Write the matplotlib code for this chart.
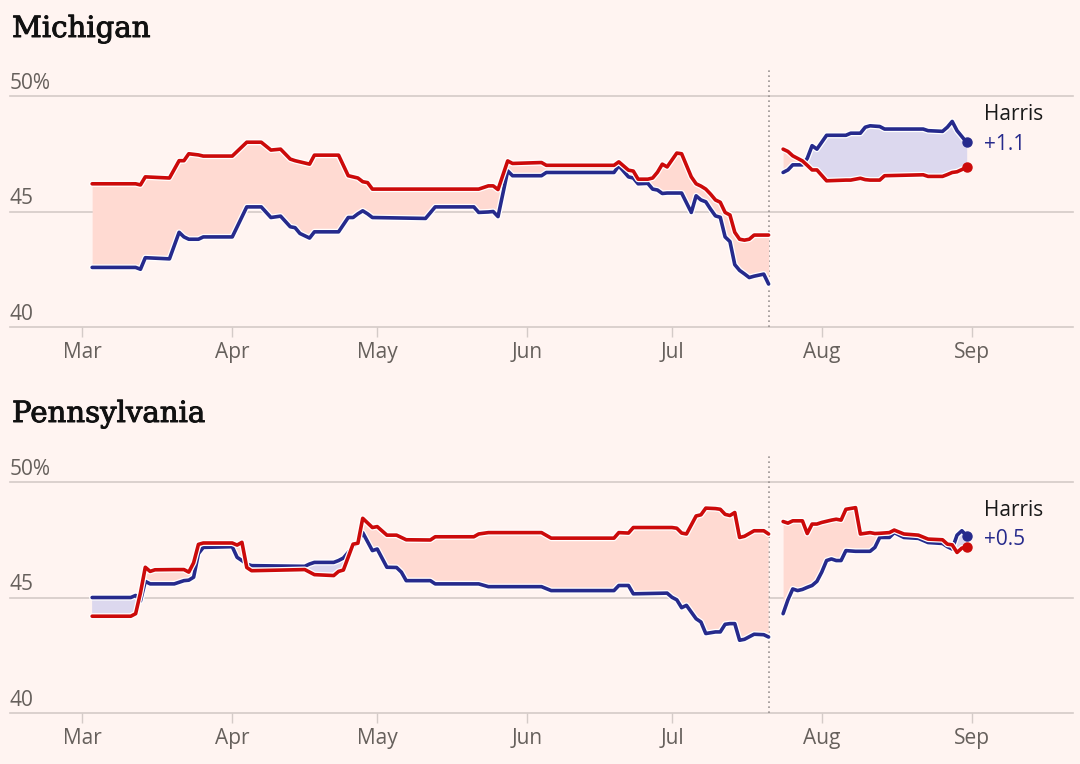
"""
Moyennes de sondages 2024 : Michigan et Pennsylvanie
Trump (rouge) contre Biden puis Harris (bleu), coupure au 21 juillet.
"""

import numpy as np
import pandas as pd
import matplotlib
matplotlib.use("Agg")
import matplotlib.pyplot as plt
import matplotlib.dates as mdates
import matplotlib.patheffects as pe

BG = "#fff4f1"
RED = "#cc0a0a"
BLUE = "#262a8c"
RED_FILL = "#ffdad2"
BLUE_FILL = "#dcd8ee"
GRID = "#d4cbc8"
TEXT_GREY = "#66605c"
SANS = ["Open Sans", "DejaVu Sans"]

# --- Michigan : Biden (jusqu'au 21 juillet) ---
mi_dates_1 = ["03-03", "03-12", "03-13", "03-14", "03-19", "03-21", "03-22", "03-23",
              "03-25", "03-26", "04-01", "04-04", "04-07", "04-09", "04-11", "04-13",
              "04-14", "04-15", "04-17", "04-18", "04-23", "04-25", "04-26", "04-27",
              "04-28", "04-29", "04-30", "05-11", "05-13", "05-21", "05-22", "05-24",
              "05-25", "05-26", "05-28", "05-29", "06-04", "06-05", "06-19", "06-20",
              "06-22", "06-23", "06-24", "06-26", "06-27", "06-28", "06-29", "06-30",
              "07-02", "07-03", "07-05", "07-06", "07-07", "07-08", "07-09", "07-10",
              "07-11", "07-12", "07-13", "07-14", "07-15", "07-16", "07-17", "07-18",
              "07-20", "07-21"]
mi_trump_1 = [46.2, 46.2, 46.15, 46.5, 46.45, 47.2, 47.2, 47.5,
              47.45, 47.4, 47.4, 48.0, 48.0, 47.66, 47.7, 47.27,
              47.2, 47.15, 47.05, 47.44, 47.44, 46.55, 46.5, 46.45,
              46.29, 46.25, 45.97, 45.97, 45.97, 45.97, 45.97, 46.11,
              46.11, 45.95, 47.19, 47.08, 47.12, 47.0, 47.0, 47.15,
              46.79, 46.75, 46.4, 46.4, 46.45, 46.7, 47.05, 46.93,
              47.53, 47.5, 46.5, 46.2, 46.1, 45.97, 45.75, 45.5,
              45.4, 44.96, 44.85, 44.1, 43.8, 43.76, 43.8, 43.98,
              43.98, 43.98]
mi_dem_1 = [42.58, 42.58, 42.5, 43.0, 42.95, 44.1, 43.9, 43.8,
            43.8, 43.9, 43.9, 45.2, 45.2, 44.74, 44.8, 44.34,
            44.3, 44.05, 43.85, 44.12, 44.12, 44.74, 44.74, 44.9,
            45.03, 44.9, 44.74, 44.7, 45.2, 45.2, 44.96, 44.98,
            45.0, 44.78, 46.76, 46.55, 46.55, 46.69, 46.69, 46.98,
            46.5, 46.45, 46.2, 46.22, 45.97, 45.93, 45.78, 45.8,
            45.8, 45.8, 44.96, 45.68, 45.5, 45.42, 45.1, 44.81,
            44.75, 43.9, 43.7, 42.7, 42.45, 42.3, 42.14, 42.2,
            42.29, 41.86]

# --- Michigan : Harris ---
mi_dates_2 = ["07-24", "07-25", "07-26", "07-28", "07-29", "07-30", "07-31", "08-02",
              "08-06", "08-07", "08-09", "08-10", "08-11", "08-13", "08-14", "08-22",
              "08-23", "08-26", "08-27", "08-28", "08-29", "08-31"]
mi_trump_2 = [47.7, 47.6, 47.41, 47.19, 47.0, 46.8, 46.8, 46.33,
              46.36, 46.36, 46.44, 46.38, 46.36, 46.36, 46.55, 46.59,
              46.52, 46.52, 46.6, 46.69, 46.72, 46.91]
mi_dem_2 = [46.69, 46.8, 47.02, 47.02, 47.3, 47.85, 47.7, 48.3,
            48.3, 48.39, 48.39, 48.65, 48.71, 48.68, 48.57, 48.57,
            48.5, 48.47, 48.65, 48.9, 48.5, 47.99]

# --- Pennsylvanie : Biden ---
pa_dates_1 = ["03-03", "03-11", "03-12", "03-13", "03-14", "03-15", "03-16", "03-20",
              "03-22", "03-23", "03-24", "03-25", "03-26", "04-01", "04-02", "04-03",
              "04-04", "04-05", "04-16", "04-17", "04-18", "04-22", "04-23", "04-24",
              "04-26", "04-27", "04-28", "04-30", "05-01", "05-03", "05-05", "05-06",
              "05-07", "05-12", "05-13", "05-21", "05-22", "05-24", "06-04", "06-06",
              "06-19", "06-20", "06-22", "06-23", "06-30", "07-01", "07-02", "07-03",
              "07-04", "07-06", "07-07", "07-08", "07-10", "07-11", "07-12", "07-13",
              "07-14", "07-15", "07-16", "07-18", "07-20", "07-21"]
pa_trump_1 = [44.19, 44.19, 44.3, 45.2, 46.31, 46.13, 46.2, 46.21,
              46.21, 46.1, 46.5, 47.3, 47.36, 47.36, 47.27, 47.39,
              46.3, 46.16, 46.21, 46.1, 45.99, 45.95, 46.13, 46.19,
              47.31, 47.35, 48.43, 48.03, 48.07, 47.7, 47.7, 47.6,
              47.5, 47.49, 47.63, 47.63, 47.75, 47.81, 47.81, 47.57,
              47.57, 47.81, 47.79, 48.03, 48.03, 48.03, 48.0, 47.79,
              47.75, 48.53, 48.58, 48.87, 48.85, 48.82, 48.6, 48.55,
              48.68, 47.6, 47.65, 47.89, 47.89, 47.75]
pa_dem_1 = [45.0, 45.0, 45.09, 44.85, 45.7, 45.59, 45.59, 45.59,
            45.73, 45.75, 45.88, 46.9, 47.17, 47.2, 46.74, 46.6,
            46.45, 46.38, 46.35, 46.45, 46.52, 46.52, 46.6, 46.71,
            47.2, 47.4, 47.81, 47.03, 47.1, 46.31, 46.3, 46.1,
            45.73, 45.73, 45.59, 45.59, 45.59, 45.47, 45.47, 45.3,
            45.3, 45.52, 45.52, 45.16, 45.19, 45.01, 44.9, 44.56,
            44.66, 44.08, 43.94, 43.44, 43.51, 43.51, 43.84, 43.87,
            43.87, 43.15, 43.19, 43.41, 43.39, 43.29]

# --- Pennsylvanie : Harris ---
pa_dates_2 = ["07-24", "07-25", "07-26", "07-27", "07-28", "07-29", "07-30", "07-31",
              "08-01", "08-02", "08-03", "08-04", "08-05", "08-06", "08-08", "08-09",
              "08-11", "08-12", "08-13", "08-15", "08-16", "08-18", "08-21", "08-23",
              "08-26", "08-27", "08-28", "08-29", "08-30", "08-31"]
pa_trump_2 = [48.29, 48.22, 48.32, 48.32, 48.32, 47.77, 48.18, 48.18,
              48.25, 48.3, 48.35, 48.39, 48.35, 48.82, 48.89, 47.75,
              47.81, 47.77, 47.78, 47.81, 47.92, 47.75, 47.7, 47.53,
              47.5, 47.31, 47.28, 46.95, 47.14, 47.17]
pa_dem_2 = [44.3, 44.9, 45.37, 45.3, 45.35, 45.44, 45.52, 45.7,
            46.1, 46.6, 46.67, 46.6, 46.6, 47.03, 47.0, 47.0,
            47.0, 47.17, 47.6, 47.6, 47.81, 47.6, 47.56, 47.38,
            47.34, 47.2, 47.1, 47.7, 47.89, 47.67]

DROPOUT = pd.Timestamp("2024-07-21")


def to_num(days):
    return mdates.date2num(pd.to_datetime(["2024-" + d for d in days]))


def draw_state(ax, title, title_y, segments, label_y):
    ax.set_facecolor(BG)
    ax.set_xlim(pd.Timestamp("2024-02-15"), pd.Timestamp("2024-09-22"))
    ax.set_ylim(40, 51.2)
    for s in ax.spines.values():
        s.set_visible(False)
    for v in (40, 45, 50):
        ax.axhline(v, color=GRID, lw=1.2, zorder=1, clip_on=False)
        lab = "50%" if v == 50 else str(v)
        ax.annotate(lab, xy=(0, v), xycoords=("axes fraction", "data"),
                    xytext=(0, 5.2), textcoords="offset points",
                    ha="left", va="baseline", fontsize=15, color=TEXT_GREY, family=SANS)
    ax.set_yticks([])
    ax.xaxis.set_major_locator(mdates.MonthLocator())
    ax.xaxis.set_major_formatter(mdates.DateFormatter("%b"))
    ax.tick_params(axis="x", length=7, width=1, color=GRID, labelcolor=TEXT_GREY,
                   labelsize=15, pad=4)
    for lab in ax.get_xticklabels():
        lab.set_family(SANS)

    ax.axvline(mdates.date2num(DROPOUT), color="#9a9391", lw=1.2, ls=(0, (1, 2)), zorder=1.5)

    halo = [pe.Stroke(linewidth=4.4, foreground="white"), pe.Normal()]
    for days, trump, dem in segments:
        x = to_num(days)
        t = np.array(trump)
        d = np.array(dem)
        ax.fill_between(x, t, d, where=t >= d, interpolate=True, color=RED_FILL, lw=0, zorder=2)
        ax.fill_between(x, t, d, where=d > t, interpolate=True, color=BLUE_FILL, lw=0, zorder=2)
        ax.plot(x, d, color=BLUE, lw=2.6, solid_joinstyle="round", solid_capstyle="round",
                path_effects=halo, zorder=3)
        ax.plot(x, t, color=RED, lw=2.6, solid_joinstyle="round", solid_capstyle="round",
                path_effects=halo, zorder=4)

    # points finaux + étiquette de l'écart
    x_end = x[-1]
    ax.plot(x_end, d[-1], "o", color=BLUE, ms=6.5, zorder=5)
    ax.plot(x_end, t[-1], "o", color=RED, ms=6.5, zorder=5)
    lead = d[-1] - t[-1]
    x_lab = x_end + 3.6
    ax.text(x_lab, label_y[0], "Harris", ha="left", va="baseline", fontsize=15,
            color="#1a1a1a", family=SANS)
    ax.text(x_lab, label_y[1], f"{lead:+.1f}", ha="left", va="baseline", fontsize=15,
            color=BLUE, family=SANS)

    fig.text(12 / 1080, 1 - title_y / 764, title, ha="left", va="baseline",
             fontsize=21, family="DejaVu Serif", color="#111111",
             path_effects=[pe.withStroke(linewidth=0.7, foreground="#111111")])


fig = plt.figure(figsize=(10.8, 7.64), dpi=100, facecolor=BG)
ax_mi = fig.add_axes([10 / 1080, 1 - 327 / 764, 1063 / 1080, 258.7 / 764])
ax_pa = fig.add_axes([10 / 1080, 1 - 713 / 764, 1063 / 1080, 258.7 / 764])

draw_state(ax_mi, "Michigan", 37,
           [(mi_dates_1, mi_trump_1, mi_dem_1), (mi_dates_2, mi_trump_2, mi_dem_2)],
           (48.95, 47.65))
draw_state(ax_pa, "Pennsylvania", 422,
           [(pa_dates_1, pa_trump_1, pa_dem_1), (pa_dates_2, pa_trump_2, pa_dem_2)],
           (48.55, 47.28))

fig.savefig("out.png", dpi=100, facecolor=BG)
